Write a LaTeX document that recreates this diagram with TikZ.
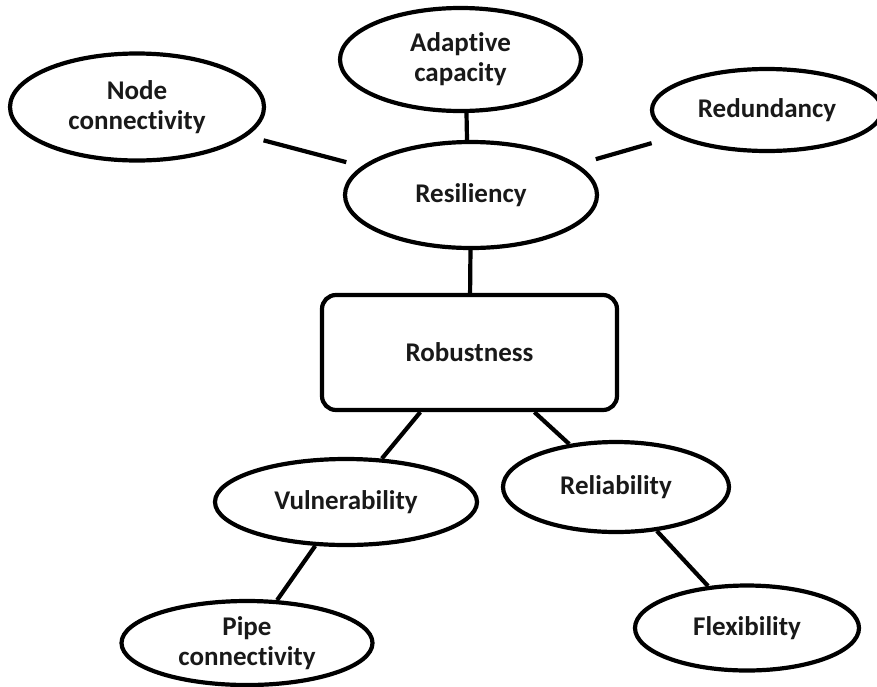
\documentclass[tikz,border=0pt]{standalone}
\usepackage{fontspec}
\setmainfont[Ligatures=NoCommon]{Carlito}
\usetikzlibrary{shapes.geometric}

\tikzset{
  concept/.style={ellipse, draw=black, line width=4.2pt, fill=white, inner sep=0pt,
    align=center, font=\bfseries\fontsize{27}{30}\selectfont, text=black!90},
  corebox/.style={rectangle, rounded corners=14pt, draw=black, line width=4.2pt,
    fill=white, inner sep=0pt, minimum width=295pt, minimum height=115pt,
    font=\bfseries\fontsize{27}{30}\selectfont, text=black!90},
  link/.style={draw=black, line width=4.2pt}
}

\begin{document}
\begin{tikzpicture}[x=1pt, y=-1pt]
  \useasboundingbox (0,0) rectangle (877,686);

  % central block and the concepts around it
  \node[corebox] (rob) at (469.5,352.5) {Robustness};
  \node[concept, minimum width=252pt, minimum height=106pt] (res) at (471,195) {Resiliency};
  \node[concept, minimum width=254pt, minimum height=107pt] (nc) at (137,107) {Node\\connectivity};
  \node[concept, minimum width=241pt, minimum height=103pt] (ac) at (460.5,59.5) {Adaptive\\capacity};
  \node[concept, minimum width=230pt, minimum height=82pt] (red) at (767,110) {Redundancy};
  \node[concept, minimum width=262pt, minimum height=86pt] (vul) at (346,502) {Vulnerability};
  \node[concept, minimum width=226pt, minimum height=90pt] (rel) at (616,487) {Reliability};
  \node[concept, minimum width=251pt, minimum height=84pt] (pipe) at (247,643) {Pipe\\connectivity};
  \node[concept, minimum width=224pt, minimum height=85pt] (flex) at (747,628) {Flexibility};

  % connectors
  \draw[link, shorten <=17pt, shorten >=16pt] (nc) -- (res);
  \draw[link] ([xshift=6pt]ac.south) -- ([xshift=-4pt]res.north);
  \draw[link, shorten <=24pt, shorten >=19pt] (red) -- (res);
  \draw[link] (res) -- (rob);
  \draw[link] (rob) -- (vul);
  \draw[link] (rob) -- (rel);
  \draw[link] (vul) -- (pipe);
  \draw[link] (rel) -- (flex);
\end{tikzpicture}
\end{document}
